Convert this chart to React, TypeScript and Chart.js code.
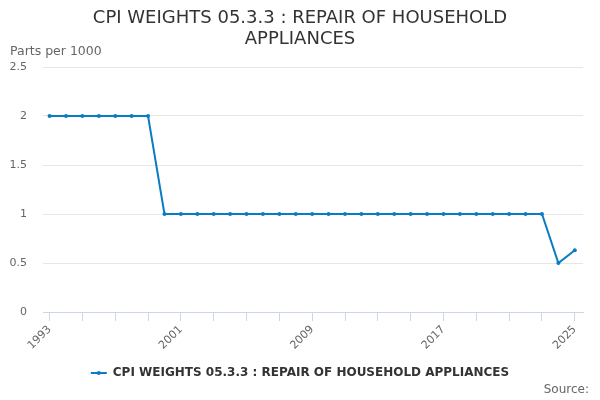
import { useEffect, useRef } from "react"
import { Chart, type ChartConfiguration, type Plugin, registerables } from "chart.js"

Chart.register(...registerables)

const years = [
  1993, 1994, 1995, 1996, 1997, 1998, 1999, 2000, 2001, 2002, 2003, 2004, 2005, 2006, 2007, 2008, 2009,
  2010, 2011, 2012, 2013, 2014, 2015, 2016, 2017, 2018, 2019, 2020, 2021, 2022, 2023, 2024, 2025,
]
const weights = [
  2, 2, 2, 2, 2, 2, 2, 1, 1, 1, 1, 1, 1, 1, 1, 1, 1,
  1, 1, 1, 1, 1, 1, 1, 1, 1, 1, 1, 1, 1, 1, 0.5, 0.63,
]
const tickYears = [1993, 1995, 1997, 1999, 2001, 2003, 2005, 2007, 2009, 2011, 2013, 2015, 2017, 2019, 2021, 2023, 2025]
const labelYears = [1993, 2001, 2009, 2017, 2025]

const titleLines = ["CPI WEIGHTS 05.3.3 : REPAIR OF HOUSEHOLD", "APPLIANCES"]
const seriesName = "CPI WEIGHTS 05.3.3 : REPAIR OF HOUSEHOLD APPLIANCES"
const yAxisName = "Parts per 1000"
const sourceText = "Source:"

const FONT = "'DejaVu Sans', sans-serif"
const LINE = "#0a7cc4"

const decorations: Plugin = {
  id: "decorations",
  afterDraw(chart) {
    const ctx = chart.ctx
    const w = chart.width
    ctx.save()
    // title
    ctx.fillStyle = "#333333"
    ctx.font = `18px ${FONT}`
    ctx.textAlign = "center"
    ctx.textBaseline = "middle"
    titleLines.forEach((t, i) => ctx.fillText(t, w / 2, 18 + i * 21))

    // y axis name
    ctx.fillStyle = "#666666"
    ctx.font = `12.5px ${FONT}`
    ctx.textAlign = "left"
    ctx.fillText(yAxisName, 10, 52)

    // legend
    ctx.font = `bold 12px ${FONT}`
    const tw = ctx.measureText(seriesName).width
    const total = 16 + 6 + tw
    const x0 = w / 2 - total / 2
    const ly = 373
    ctx.strokeStyle = LINE
    ctx.lineWidth = 2
    ctx.beginPath()
    ctx.moveTo(x0, ly)
    ctx.lineTo(x0 + 16, ly)
    ctx.stroke()
    ctx.fillStyle = LINE
    ctx.beginPath()
    ctx.arc(x0 + 8, ly, 2, 0, Math.PI * 2)
    ctx.fill()
    ctx.fillStyle = "#333333"
    ctx.fillText(seriesName, x0 + 22, ly)

    // source
    ctx.fillStyle = "#666666"
    ctx.font = `12px ${FONT}`
    ctx.textAlign = "right"
    ctx.fillText(sourceText, 589, 390)
    ctx.restore()
  },
}

export default function App() {
  const canvasRef = useRef<HTMLCanvasElement>(null)
  const chartRef = useRef<Chart | null>(null)

  useEffect(() => {
    if (!canvasRef.current) return
    if (chartRef.current) chartRef.current.destroy()

    const points = years.map((y, i) => ({ x: y, y: weights[i] }))

    const config: ChartConfiguration = {
      type: "line",
      data: {
        datasets: [
          {
            label: seriesName,
            data: points,
            borderColor: LINE,
            backgroundColor: LINE,
            borderWidth: 2,
            pointRadius: 2,
            pointBorderWidth: 0,
            pointHoverRadius: 3,
            tension: 0,
            fill: false,
          },
        ],
      },
      options: {
        responsive: false,
        animation: false,
        layout: { padding: { top: 67, left: 8, right: 17, bottom: 28 } },
        plugins: {
          legend: { display: false },
          title: { display: false },
          tooltip: { enabled: false },
        },
        scales: {
          x: {
            type: "linear",
            min: 1992.6,
            max: 2025.5,
            afterBuildTicks: (scale) => {
              scale.ticks = tickYears.map((v) => ({ value: v }))
            },
            afterFit: (scale) => {
              scale.height = 60
            },
            ticks: {
              autoSkip: false,
              minRotation: 45,
              maxRotation: 45,
              color: "#666666",
              font: { family: FONT, size: 11 },
              padding: 2,
              callback: (v) => (labelYears.includes(Number(v)) ? String(v) : ""),
            },
            grid: {
              drawOnChartArea: false,
              drawTicks: true,
              tickLength: 9,
              tickColor: "#ccd6eb",
            },
            border: { display: true, color: "#ccd6eb", width: 1 },
          },
          y: {
            min: 0,
            max: 2.5,
            afterFit: (scale) => {
              scale.width = 35
            },
            ticks: {
              stepSize: 0.5,
              color: "#666666",
              font: { family: FONT, size: 11 },
              padding: 16,
              callback: (v) => String(Number(v)),
            },
            grid: { color: "#e6e6e6", drawTicks: false },
            border: { display: false },
          },
        },
      },
      plugins: [decorations],
    }

    chartRef.current = new Chart(canvasRef.current, config)
    return () => {
      if (chartRef.current) {
        chartRef.current.destroy()
        chartRef.current = null
      }
    }
  }, [])

  return (
    <div style={{ position: "fixed", left: 0, top: 0, width: 600, height: 400, background: "#fff" }}>
      <canvas ref={canvasRef} width={600} height={400} style={{ width: 600, height: 400 }}></canvas>
    </div>
  )
}
